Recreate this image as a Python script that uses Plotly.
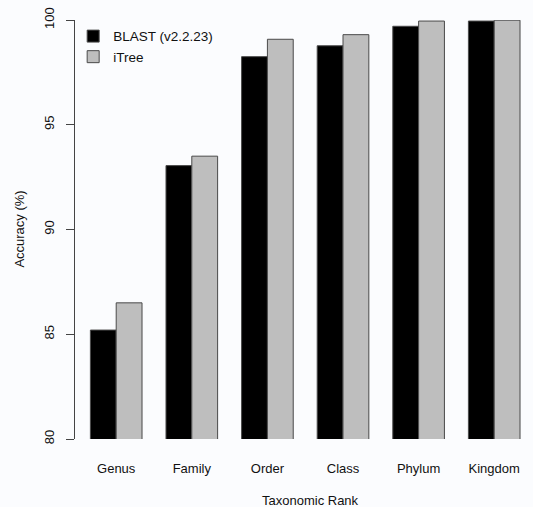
import plotly.graph_objects as go

ranks = ["Genus", "Family", "Order", "Class", "Phylum", "Kingdom"]
blast = [85.2, 93.05, 98.25, 98.77, 99.7, 99.95]
itree = [86.5, 93.5, 99.08, 99.3, 99.95, 99.99]
series_names = ["BLAST (v2.2.23)", "iTree"]
y_ticks = [80, 85, 90, 95, 100]

FONT = "Liberation Sans, Arial, Helvetica, sans-serif"
BG = "#fbfcfe"
TXT = "#111111"

fig = go.Figure()
fig.add_trace(go.Bar(x=ranks, y=blast, name=series_names[0],
                     marker=dict(color="#000000", line=dict(color="#4a4a4a", width=1))))
fig.add_trace(go.Bar(x=ranks, y=itree, name=series_names[1],
                     marker=dict(color="#bebebe", line=dict(color="#4a4a4a", width=1))))

fig.update_layout(
    width=533, height=507,
    margin=dict(l=75, r=0, t=20, b=68),
    paper_bgcolor=BG, plot_bgcolor=BG,
    font=dict(family=FONT, size=13, color=TXT),
    barmode="group", bargap=0.317, bargroupgap=0,
    showlegend=True,
    legend=dict(x=-0.004, y=0.998, xanchor="left", yanchor="top",
                bgcolor="rgba(0,0,0,0)", font=dict(size=13.5),
                itemclick=False, tracegroupgap=0),
    xaxis=dict(range=[-0.545, 5.513], showline=False, showgrid=False, zeroline=False,
               automargin=False,
               ticks="outside", ticklen=17, tickcolor="rgba(0,0,0,0)"),
    yaxis=dict(range=[80, 100], tickvals=y_ticks, showline=True, linecolor="#444",
               linewidth=1, showgrid=False, zeroline=False, automargin=False,
               ticks="outside", ticklen=8, tickcolor="#444", tickangle=-90,
               ticklabelstandoff=7),
    annotations=[
        dict(text="Taxonomic Rank", xref="paper", yref="paper", x=0.515, y=-0.1456,
             xanchor="center", yanchor="middle", showarrow=False, font=dict(size=13)),
        dict(text="Accuracy (%)", xref="paper", yref="paper", x=-0.122, y=0.5,
             xanchor="center", yanchor="middle", textangle=-90, showarrow=False,
             font=dict(size=13)),
    ],
)

fig.write_html("out.html",
               config={"displayModeBar": False},
               post_script="document.body.style.margin='0';"
                           "document.body.style.background='" + BG + "';")
